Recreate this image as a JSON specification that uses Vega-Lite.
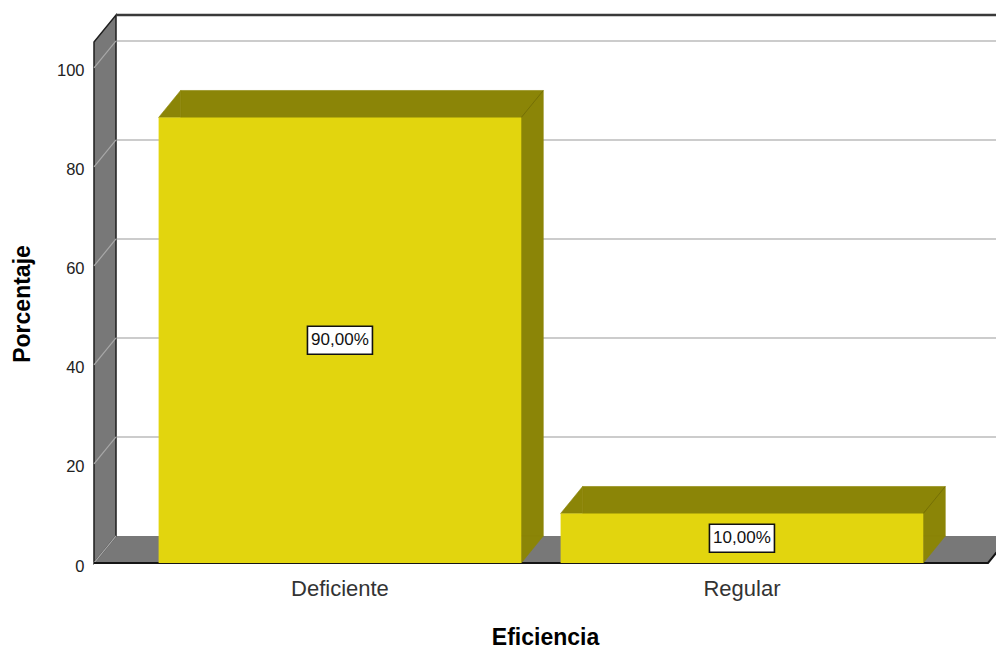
{
  "$schema": "https://vega.github.io/schema/vega-lite/v6.json",
  "width": 902,
  "height": 548,
  "autosize": {"type": "none"},
  "padding": {"left": 94, "top": 15, "right": 0, "bottom": 85},
  "background": "white",
  "config": {
    "font": "Liberation Sans",
    "view": {"stroke": null},
    "locale": {"number": {"decimal": ",", "thousands": ".", "grouping": [3], "currency": ["", "%"]}},
    "axisX": {
      "domain": false,
      "ticks": false,
      "grid": false,
      "labelAngle": 0,
      "labelFontSize": 22,
      "labelColor": "#333333",
      "labelPadding": 15,
      "titleFontSize": 23,
      "titleFontWeight": "bold",
      "titleColor": "#000000",
      "titlePadding": 27
    },
    "axisY": {
      "domain": false,
      "ticks": false,
      "grid": false,
      "tickCount": 6,
      "labelFontSize": 16.5,
      "labelColor": "#222222",
      "labelPadding": 10,
      "labelOffset": 3,
      "titleFontSize": 23,
      "titleFontWeight": "bold",
      "titleColor": "#000000",
      "titlePadding": 22,
      "titleY": 288.5
    }
  },
  "datasets": {
    "marcas": [
      {"marca": 0}, {"marca": 20}, {"marca": 40}, {"marca": 60}, {"marca": 80}, {"marca": 100}
    ],
    "unico": [{}]
  },
  "data": {"values": [
    {"Eficiencia": "Deficiente", "Porcentaje": 90},
    {"Eficiencia": "Regular", "Porcentaje": 10}
  ]},
  "layer": [
    {
      "data": {"name": "unico"},
      "mark": {"type": "point", "shape": "M-451,0L-429,-27L465,-27L443,0Z", "size": 4, "filled": true, "opacity": 1, "fill": "#787878", "strokeWidth": 0},
      "encoding": {"y": {"datum": 0, "type": "quantitative", "title": "Porcentaje", "scale": {"domain": [0, 110.7], "nice": false}}}
    },
    {
      "data": {"name": "unico"},
      "mark": {"type": "point", "shape": "M-451,0L-451,-521L-429,-548L-429,-27Z", "size": 4, "filled": true, "opacity": 1, "fill": "#787878", "stroke": "#1e1e1e", "strokeWidth": 1.5},
      "encoding": {"y": {"datum": 0, "type": "quantitative", "title": "Porcentaje", "scale": {"domain": [0, 110.7], "nice": false}}}
    },
    {
      "data": {"name": "marcas"},
      "mark": {"type": "point", "shape": "M-451,0L-429,-27", "size": 4, "filled": false, "opacity": 1, "color": "#a8a8a8", "strokeWidth": 1.2},
      "encoding": {"y": {"field": "marca", "type": "quantitative", "title": "Porcentaje", "scale": {"domain": [0, 110.7], "nice": false}}}
    },
    {
      "data": {"name": "marcas"},
      "transform": [{"filter": "datum.marca > 0"}],
      "mark": {"type": "point", "shape": "M-428.2,-27L459,-27", "size": 4, "filled": false, "opacity": 1, "color": "#cccccc", "strokeWidth": 2},
      "encoding": {"y": {"field": "marca", "type": "quantitative", "title": "Porcentaje", "scale": {"domain": [0, 110.7], "nice": false}}}
    },
    {
      "data": {"name": "unico"},
      "mark": {"type": "point", "shape": "M-429,-548L459,-548", "size": 4, "filled": false, "opacity": 1, "color": "#3a3a3a", "strokeWidth": 2.5},
      "encoding": {"y": {"datum": 0, "type": "quantitative", "title": "Porcentaje", "scale": {"domain": [0, 110.7], "nice": false}}}
    },
    {
      "data": {"name": "unico"},
      "mark": {"type": "point", "shape": "M-451,0L443,0L465,-27", "size": 4, "filled": false, "opacity": 1, "color": "#151515", "strokeWidth": 2},
      "encoding": {"y": {"datum": 0, "type": "quantitative", "title": "Porcentaje", "scale": {"domain": [0, 110.7], "nice": false}}}
    },
    {
      "mark": {"type": "bar", "color": "#8b8507", "stroke": "#8b8507", "strokeWidth": 0.6, "xOffset": 22, "x2Offset": 22, "yOffset": -27, "y2Offset": -27},
      "encoding": {
        "x": {"field": "Eficiencia", "type": "nominal", "sort": null, "title": "Eficiencia", "scale": {"type": "band", "paddingInner": 0.0978, "paddingOuter": 0.1708, "align": 0.4705}},
        "y": {"field": "Porcentaje", "type": "quantitative", "title": "Porcentaje", "scale": {"domain": [0, 110.7], "nice": false}}
      }
    },
    {
      "mark": {"type": "point", "shape": "M0,0L22,-27L22,0Z", "size": 4, "filled": true, "opacity": 1, "fill": "#8b8507", "stroke": "#8b8507", "strokeWidth": 0.6},
      "encoding": {
        "x": {"field": "Eficiencia", "type": "nominal", "sort": null, "title": "Eficiencia", "bandPosition": 0, "scale": {"type": "band", "paddingInner": 0.0978, "paddingOuter": 0.1708, "align": 0.4705}},
        "y": {"field": "Porcentaje", "type": "quantitative", "title": "Porcentaje", "scale": {"domain": [0, 110.7], "nice": false}}
      }
    },
    {
      "mark": {"type": "point", "shape": "M0,0L0,-27L22,-27Z", "size": 4, "filled": true, "opacity": 1, "fill": "#8b8507", "stroke": "#8b8507", "strokeWidth": 0.6},
      "encoding": {
        "x": {"field": "Eficiencia", "type": "nominal", "sort": null, "title": "Eficiencia", "bandPosition": 1, "scale": {"type": "band", "paddingInner": 0.0978, "paddingOuter": 0.1708, "align": 0.4705}},
        "y": {"datum": 0, "type": "quantitative", "title": "Porcentaje", "scale": {"domain": [0, 110.7], "nice": false}}
      }
    },
    {
      "mark": {"type": "point", "shape": "M0,0L22,-27", "size": 4, "filled": false, "opacity": 1, "color": "#6f6a05", "strokeWidth": 0.8},
      "encoding": {
        "x": {"field": "Eficiencia", "type": "nominal", "sort": null, "title": "Eficiencia", "bandPosition": 1, "scale": {"type": "band", "paddingInner": 0.0978, "paddingOuter": 0.1708, "align": 0.4705}},
        "y": {"field": "Porcentaje", "type": "quantitative", "title": "Porcentaje", "scale": {"domain": [0, 110.7], "nice": false}}
      }
    },
    {
      "mark": {"type": "bar", "color": "#e2d50e"},
      "encoding": {
        "x": {"field": "Eficiencia", "type": "nominal", "sort": null, "title": "Eficiencia", "scale": {"type": "band", "paddingInner": 0.0978, "paddingOuter": 0.1708, "align": 0.4705}},
        "y": {"field": "Porcentaje", "type": "quantitative", "title": "Porcentaje", "scale": {"domain": [0, 110.7], "nice": false}}
      }
    },
    {
      "transform": [{"calculate": "datum.Porcentaje / 2", "as": "centro"}],
      "layer": [
        {
          "mark": {"type": "point", "shape": "M-32.5,-14L32.5,-14L32.5,14L-32.5,14Z", "size": 4, "filled": true, "opacity": 1, "fill": "#ffffff", "stroke": "#111111", "strokeWidth": 1.6}
        },
        {
          "mark": {"type": "text", "fontSize": 17, "color": "#111111", "baseline": "middle", "align": "center"},
          "encoding": {"text": {"field": "Porcentaje", "type": "quantitative", "format": "$.2f"}}
        }
      ],
      "encoding": {
        "x": {"field": "Eficiencia", "type": "nominal", "sort": null, "title": "Eficiencia", "scale": {"type": "band", "paddingInner": 0.0978, "paddingOuter": 0.1708, "align": 0.4705}},
        "y": {"field": "centro", "type": "quantitative", "title": "Porcentaje", "scale": {"domain": [0, 110.7], "nice": false}}
      }
    }
  ]
}
